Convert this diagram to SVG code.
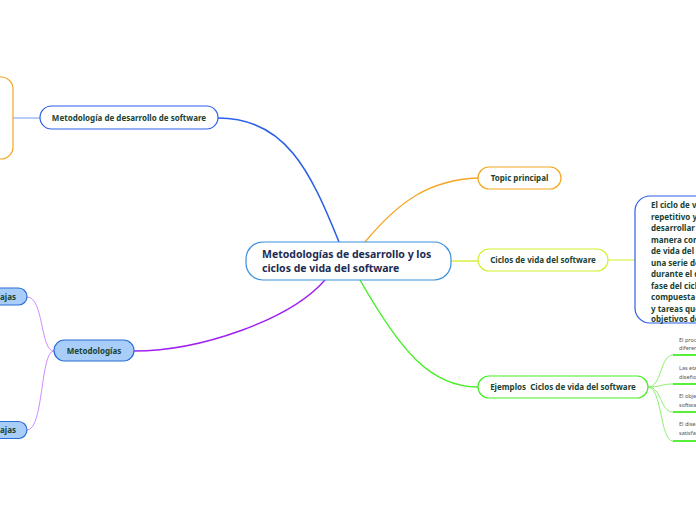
<svg xmlns="http://www.w3.org/2000/svg" width="696" height="520" viewBox="0 0 696 520">
<style>
.t{font-family:"Noto Sans","Open Sans","DejaVu Sans",sans-serif;font-weight:bold;fill:#1b4332;font-size:8px}
.c{font-family:"Noto Sans","Open Sans","DejaVu Sans",sans-serif;font-weight:bold;fill:#1d2b53;font-size:10.5px}
.s{font-family:"Noto Sans","Open Sans","DejaVu Sans",sans-serif;fill:#555;font-size:5.5px}
.w{fill:#fff}
</style>
<rect width="696" height="520" fill="#fff"/>
<g id="connectors" fill="none">
<path d="M339,242 C310,170 285,118 218,118" stroke="#2b5fe8" stroke-width="1.6"/>
<path d="M13,118 H40" stroke="#6f9cf0" stroke-width="1"/>
<path d="M365,242 C400,200 430,180 478,178" stroke="#f5a623" stroke-width="1.3"/>
<path d="M451,261 H478" stroke="#d4ee2b" stroke-width="1.3"/>
<path d="M608,260 H635" stroke="#d4ee2b" stroke-width="1"/>
<path d="M360,280 C400,350 430,387 478,387" stroke="#44ee22" stroke-width="1.4"/>
<path d="M325,280 C290,320 200,351 134,351" stroke="#a020f0" stroke-width="1.4"/>
<path d="M54,351 C40,351 44,297 27,297" stroke="#d08cff" stroke-width="1"/>
<path d="M54,351 C40,351 44,430 27,430" stroke="#d08cff" stroke-width="1"/>
<g stroke="#8cf070" stroke-width="1">
<path d="M648,387 C662,387 660,355 673,355"/>
<path d="M648,387 C662,387 660,384 673,384"/>
<path d="M648,387 C662,387 660,412 673,412"/>
<path d="M648,387 C662,387 660,441 673,441"/>
</g>
<g stroke="#44ee22" stroke-width="1.8">
<path d="M673,355 H700"/>
<path d="M673,384 H700"/>
<path d="M673,412 H700"/>
<path d="M673,441 H700"/>
</g>
</g>
<g id="central">
<rect x="246" y="242" width="205" height="38" rx="17" class="w" stroke="#3b8fdc" stroke-width="1.2"/>
<text class="c" x="262" y="258">Metodologías de desarrollo y los</text>
<text class="c" x="262" y="272">ciclos de vida del software</text>
</g>
<g id="metodologia-desarrollo">
<rect x="40" y="106" width="178" height="23" rx="11.5" class="w" stroke="#2b5fe8" stroke-width="1.2"/>
<text class="t" x="129" y="121" text-anchor="middle">Metodología de desarrollo de software</text>
</g>
<g id="orange-left">
<rect x="-30" y="77" width="43" height="82" rx="12" class="w" stroke="#f5a623" stroke-width="1.2"/>
</g>
<g id="topic-principal">
<rect x="478" y="167" width="83" height="22" rx="11" class="w" stroke="#f5a623" stroke-width="1.2"/>
<text class="t" x="519.5" y="181" text-anchor="middle">Topic principal</text>
</g>
<g id="ciclos-vida">
<rect x="478" y="249" width="130" height="22" rx="11" class="w" stroke="#d4ee2b" stroke-width="1.2"/>
<text class="t" x="543" y="263" text-anchor="middle">Ciclos de vida del software</text>
</g>
<g id="ciclo-descripcion">
<rect x="635" y="196" width="90" height="127" rx="15" class="w" stroke="#2b5fe8" stroke-width="1.2"/>
<text class="t" x="651" y="208">El ciclo de vida</text>
<text class="t" x="651" y="219.5">repetitivo y</text>
<text class="t" x="651" y="231">desarrollar</text>
<text class="t" x="651" y="242.5">manera com</text>
<text class="t" x="651" y="254">de vida del s</text>
<text class="t" x="651" y="265.5">una serie de</text>
<text class="t" x="651" y="277">durante el c</text>
<text class="t" x="651" y="288.5">fase del ciclo</text>
<text class="t" x="651" y="300">compuesta</text>
<text class="t" x="651" y="311.5">y tareas que</text>
<text class="t" x="651" y="322">objetivos de</text>
</g>
<g id="ejemplos">
<rect x="478" y="376" width="170" height="22" rx="11" class="w" stroke="#44ee22" stroke-width="1.2"/>
<text class="t" x="563" y="390" text-anchor="middle" xml:space="preserve">Ejemplos  Ciclos de vida del software</text>
</g>
<g id="ejemplo-1"><text class="s" x="679" y="342">El proceso</text><text class="s" x="679" y="349.5">diferentes</text></g>
<g id="ejemplo-2"><text class="s" x="679" y="370">Las etapas</text><text class="s" x="679" y="379">diseño</text></g>
<g id="ejemplo-3"><text class="s" x="679" y="398">El objetivo</text><text class="s" x="679" y="407">software</text></g>
<g id="ejemplo-4"><text class="s" x="679" y="426">El diseño</text><text class="s" x="679" y="435">satisface</text></g>
<g id="metodologias">
<rect x="54" y="340" width="80" height="21" rx="10.5" fill="#a8cdf8" stroke="#2b6fd6" stroke-width="1.2"/>
<text class="t" x="94" y="354" text-anchor="middle">Metodologías</text>
</g>
<g id="ventajas">
<rect x="-40" y="288" width="67" height="17" rx="8.5" fill="#a8cdf8" stroke="#2b6fd6" stroke-width="1.2"/>
<text class="t" x="16" y="299.5" text-anchor="end">Ventajas</text>
</g>
<g id="desventajas">
<rect x="-40" y="421.5" width="67" height="17" rx="8.5" fill="#a8cdf8" stroke="#2b6fd6" stroke-width="1.2"/>
<text class="t" x="16" y="433" text-anchor="end">Desventajas</text>
</g>
</svg>
